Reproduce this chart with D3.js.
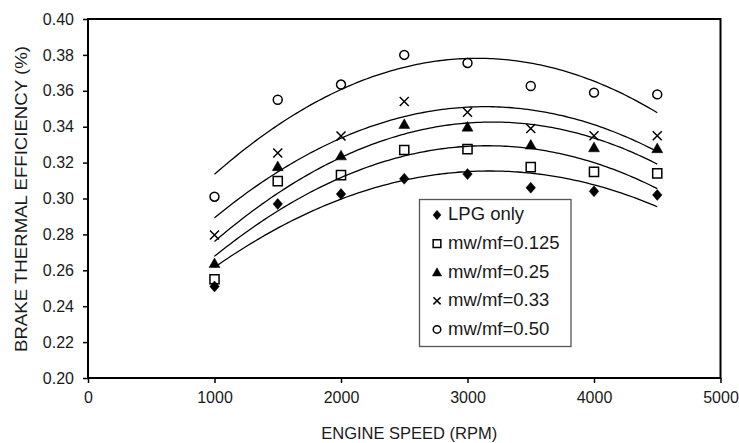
<!DOCTYPE html>
<html>
<head>
<meta charset="utf-8">
<script src="https://cdn.jsdelivr.net/npm/d3@7"></script>
<style>
  html, body { margin: 0; padding: 0; background: #fff; }
  svg { display: block; font-family: "Liberation Sans", Arial, sans-serif; }
</style>
</head>
<body>
<svg id="chart" width="739" height="443"></svg>
<script>
// Engine speed (RPM) at which brake thermal efficiency was measured
const speeds = [1000, 1500, 2000, 2500, 3000, 3500, 4000, 4500];

// Brake thermal efficiency for each water/fuel mass ratio
const lpgOnly = [0.251, 0.297, 0.3025, 0.311, 0.3136, 0.306, 0.304, 0.302];
const mw0125  = [0.255, 0.3097, 0.313, 0.327, 0.3275, 0.3175, 0.3148, 0.314];
const mw025   = [0.264, 0.318, 0.324, 0.3415, 0.340, 0.330, 0.3285, 0.328];
const mw033   = [0.2797, 0.3253, 0.3348, 0.354, 0.348, 0.339, 0.335, 0.335];
const mw050   = [0.301, 0.355, 0.3635, 0.380, 0.3755, 0.3627, 0.359, 0.358];

const seriesNames = ["LPG only", "mw/mf=0.125", "mw/mf=0.25", "mw/mf=0.33", "mw/mf=0.50"];
const seriesMarkers = ["diamond", "square", "triangle", "cross", "circle"];

const xTicks = [0, 1000, 2000, 3000, 4000, 5000];
const yTicks = [0.20, 0.22, 0.24, 0.26, 0.28, 0.30, 0.32, 0.34, 0.36, 0.38, 0.40];

const xTitle = "ENGINE SPEED (RPM)";
const yTitle = "BRAKE THERMAL EFFICIENCY (%)";

const series = [lpgOnly, mw0125, mw025, mw033, mw050].map((vals, i) => ({
  name: seriesNames[i],
  marker: seriesMarkers[i],
  points: speeds.map((s, j) => ({ x: s, y: vals[j] }))
}));

const svg = d3.select("#chart");
const plot = { left: 88, right: 720.5, top: 19, bottom: 378 };

const x = d3.scaleLinear().domain([0, 5000]).range([plot.left, plot.right]);
const y = d3.scaleLinear().domain([0.20, 0.40]).range([plot.bottom, plot.top]);

// Second-order least-squares trendline for one series
function quadFit(pts) {
  const n = pts.length;
  let sx = 0, sx2 = 0, sx3 = 0, sx4 = 0, sy = 0, sxy = 0, sx2y = 0;
  pts.forEach(p => {
    const t = p.x / 1000;
    sx += t; sx2 += t * t; sx3 += t ** 3; sx4 += t ** 4;
    sy += p.y; sxy += t * p.y; sx2y += t * t * p.y;
  });
  const M = [[n, sx, sx2, sy], [sx, sx2, sx3, sxy], [sx2, sx3, sx4, sx2y]];
  for (let c = 0; c < 3; c++) {
    for (let r = c + 1; r < 3; r++) {
      const f = M[r][c] / M[c][c];
      for (let k = c; k < 4; k++) M[r][k] -= f * M[c][k];
    }
  }
  const coef = [0, 0, 0];
  for (let r = 2; r >= 0; r--) {
    let s = M[r][3];
    for (let k = r + 1; k < 3; k++) s -= M[r][k] * coef[k];
    coef[r] = s / M[r][r];
  }
  return v => { const t = v / 1000; return coef[0] + coef[1] * t + coef[2] * t * t; };
}

// Marker path builders
function markerPath(type, cx, cy, s) {
  const p = d3.path();
  if (type === "diamond") {
    const w = s * 0.5, h = s * 0.58;
    p.moveTo(cx, cy - h); p.lineTo(cx + w, cy); p.lineTo(cx, cy + h); p.lineTo(cx - w, cy); p.closePath();
  } else if (type === "square") {
    const h = s * 0.48;
    p.rect(cx - h, cy - h, 2 * h, 2 * h);
  } else if (type === "triangle") {
    const h = s * 0.55;
    p.moveTo(cx, cy - h); p.lineTo(cx + h * 1.05, cy + h * 0.85); p.lineTo(cx - h * 1.05, cy + h * 0.85); p.closePath();
  } else if (type === "cross") {
    const h = s * 0.45;
    p.moveTo(cx - h, cy - h); p.lineTo(cx + h, cy + h);
    p.moveTo(cx + h, cy - h); p.lineTo(cx - h, cy + h);
  } else if (type === "circle") {
    const r = s * 0.47;
    p.moveTo(cx + r, cy); p.arc(cx, cy, r, 0, Math.PI * 2);
  }
  return p.toString();
}
function markerStyle(sel, type) {
  const filled = type === "diamond" || type === "triangle";
  sel.attr("fill", filled ? "#000" : "none")
     .attr("stroke", "#000")
     .attr("stroke-width", filled ? 0.5 : 1.5);
}

// Axes
const xAxis = d3.axisBottom(x).tickValues(xTicks).tickFormat(d3.format("d")).tickSize(5).tickPadding(9);
const yAxis = d3.axisLeft(y).tickValues(yTicks).tickFormat(d3.format(".2f")).tickSize(5).tickPadding(9);

const gx = svg.append("g").attr("transform", `translate(0,${plot.bottom})`).call(xAxis);
const gy = svg.append("g").attr("transform", `translate(${plot.left},0)`).call(yAxis);
[gx, gy].forEach(g => {
  g.select(".domain").remove();
  g.selectAll(".tick line").attr("stroke", "#000").attr("stroke-width", 1.5);
  g.selectAll(".tick text").attr("fill", "#1a1a1a").style("font-size", "16px")
   .style("font-family", "'Liberation Sans', Arial, sans-serif");
});

// Plot frame
svg.append("rect")
  .attr("x", plot.left).attr("y", plot.top)
  .attr("width", plot.right - plot.left).attr("height", plot.bottom - plot.top)
  .attr("fill", "none").attr("stroke", "#000").attr("stroke-width", 2);

// Trendlines
const line = d3.line().x(d => x(d.x)).y(d => y(d.y));
const sampleX = d3.range(1000, 4500 + 1, 25);
series.forEach(s => {
  const f = quadFit(s.points);
  svg.append("path")
    .attr("d", line(sampleX.map(v => ({ x: v, y: f(v) }))))
    .attr("fill", "none").attr("stroke", "#000").attr("stroke-width", 1.3);
});

// Data markers
series.forEach(s => {
  svg.append("g").selectAll("path").data(s.points).join("path")
    .attr("d", d => markerPath(s.marker, x(d.x), y(d.y), s.marker === "cross" ? 10 : 9.5))
    .call(markerStyle, s.marker);
});

// Legend
const legend = svg.append("g");
legend.append("rect")
  .attr("x", 419.5).attr("y", 199.5).attr("width", 151.5).attr("height", 147)
  .attr("fill", "#fff").attr("stroke", "#555").attr("stroke-width", 1.3);
series.forEach((s, i) => {
  const cy = 214 + i * 28.6;
  legend.append("path")
    .attr("d", markerPath(s.marker, 437, cy + 1, 8))
    .call(markerStyle, s.marker);
  legend.append("text")
    .attr("x", 448).attr("y", cy).attr("dy", "0.35em")
    .attr("fill", "#1a1a1a").style("font-size", "18.5px")
    .text(s.name);
});

// Axis titles
svg.append("text")
  .attr("x", (plot.left + plot.right) / 2 + 5).attr("y", 433).attr("dy", "0.35em")
  .attr("text-anchor", "middle").attr("fill", "#1a1a1a").style("font-size", "16.5px")
  .text(xTitle);
svg.append("text")
  .attr("transform", `translate(21,${(plot.top + plot.bottom) / 2 + 0.5}) rotate(-90)`)
  .attr("text-anchor", "middle").attr("dy", "0.35em")
  .attr("fill", "#1a1a1a").style("font-size", "17px")
  .attr("textLength", 306).attr("lengthAdjust", "spacingAndGlyphs")
  .text(yTitle);
</script>
</body>
</html>
